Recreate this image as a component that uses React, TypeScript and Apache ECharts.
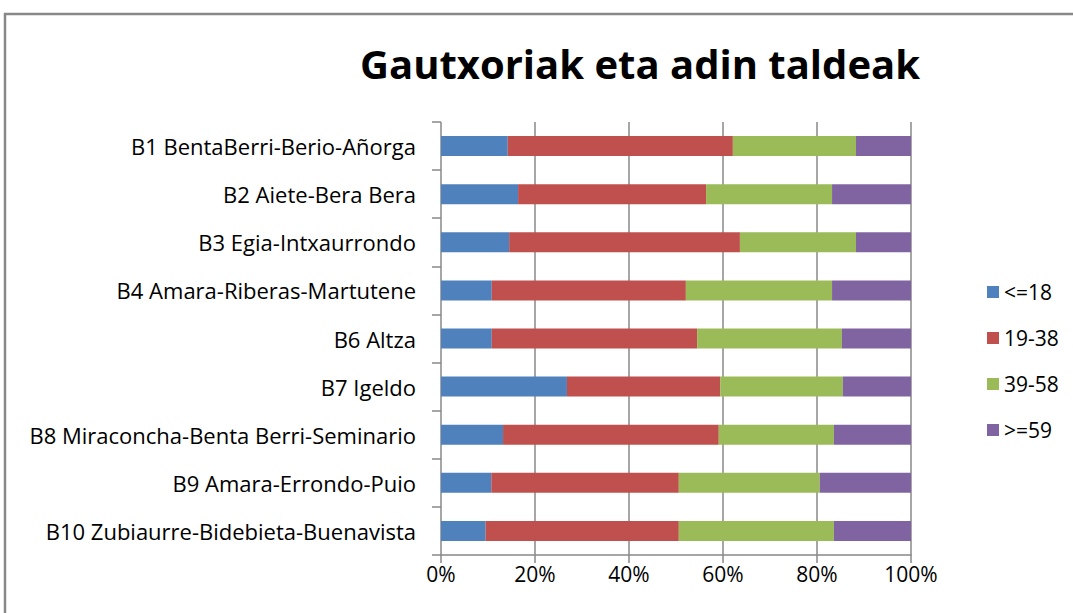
import React, { useEffect, useRef } from "react";
import * as echarts from "echarts";

const categories = [
  "B1 BentaBerri-Berio-Añorga",
  "B2 Aiete-Bera Bera",
  "B3 Egia-Intxaurrondo",
  "B4 Amara-Riberas-Martutene",
  "B6 Altza",
  "B7 Igeldo",
  "B8 Miraconcha-Benta Berri-Seminario",
  "B9 Amara-Errondo-Puio",
  "B10 Zubiaurre-Bidebieta-Buenavista",
];
const seriesNames = ["<=18", "19-38", "39-58", ">=59"];
const age18 = [14.2, 16.4, 14.5, 10.8, 10.8, 26.8, 13.2, 10.7, 9.5];
const age19_38 = [47.9, 40.0, 49.1, 41.3, 43.7, 32.6, 45.9, 39.9, 41.1];
const age39_58 = [26.2, 26.8, 24.7, 31.1, 30.8, 26.1, 24.5, 30.0, 33.0];
const age59 = [11.7, 16.8, 11.7, 16.8, 14.7, 14.5, 16.4, 19.4, 16.4];
const colors = ["#4F81BD", "#C0504D", "#9BBB59", "#8064A2"];
const xTicks = [0, 20, 40, 60, 80, 100];
const titleText = "Gautxoriak eta adin taldeak";

export default function App() {
  const ref = useRef<HTMLDivElement>(null);
  useEffect(() => {
    if (!ref.current) return;
    const chart = echarts.init(ref.current, null, { renderer: "svg" });
    const values = [age18, age19_38, age39_58, age59];
    chart.setOption({
      animation: false,
      backgroundColor: "#ffffff",
      title: {
        text: titleText,
        left: 640,
        textAlign: "center",
        top: 41,
        padding: 0,
        textStyle: {
          fontFamily: "Open Sans",
          fontWeight: "bold",
          fontSize: 40,
          lineHeight: 44,
          color: "#000",
        },
      },
      graphic: [
        {
          type: "polyline",
          shape: { points: [[5, 613], [5, 14], [1073, 14]] },
          style: { stroke: "#888888", lineWidth: 2.5, fill: "none" },
          silent: true,
        },
      ],
      legend: {
        orient: "vertical",
        left: 982,
        top: 276,
        icon: "rect",
        itemWidth: 12,
        itemHeight: 12,
        itemGap: 24,
        data: seriesNames,
        textStyle: {
          fontFamily: "Open Sans",
          fontSize: 21,
          lineHeight: 22,
          color: "#000",
          padding: [0, 0, 0, 0],
        },
      },
      grid: { left: 441, right: 162, top: 122, bottom: 58, containLabel: false },
      xAxis: {
        type: "value",
        min: 0,
        max: 100,
        interval: 20,
        axisLine: { show: true, lineStyle: { color: "#888888", width: 1.5 } },
        axisTick: { show: true, length: 8, lineStyle: { color: "#888888", width: 1.5 } },
        splitLine: { show: true, lineStyle: { color: "#888888", width: 1.5 } },
        axisLabel: {
          formatter: (v: number) => (xTicks.includes(v) ? v + "%" : ""),
          fontFamily: "Open Sans",
          fontSize: 21,
          color: "#000",
          margin: 8,
        },
      },
      yAxis: {
        type: "category",
        data: categories,
        inverse: true,
        axisLine: { show: false },
        axisTick: {
          show: true,
          length: 9,
          alignWithLabel: false,
          lineStyle: { color: "#888888", width: 1.5 },
        },
        axisLabel: {
          fontFamily: "Open Sans",
          fontSize: 22,
          color: "#000",
          margin: 25,
        },
      },
      series: seriesNames.map((name, i) => ({
        name,
        type: "bar",
        stack: "total",
        barWidth: 20,
        itemStyle: { color: colors[i] },
        data: values[i],
      })),
    });
    return () => chart.dispose();
  }, []);
  return <div ref={ref} style={{ width: 1073, height: 613, position: "absolute", left: 0, top: 0 }} />;
}
